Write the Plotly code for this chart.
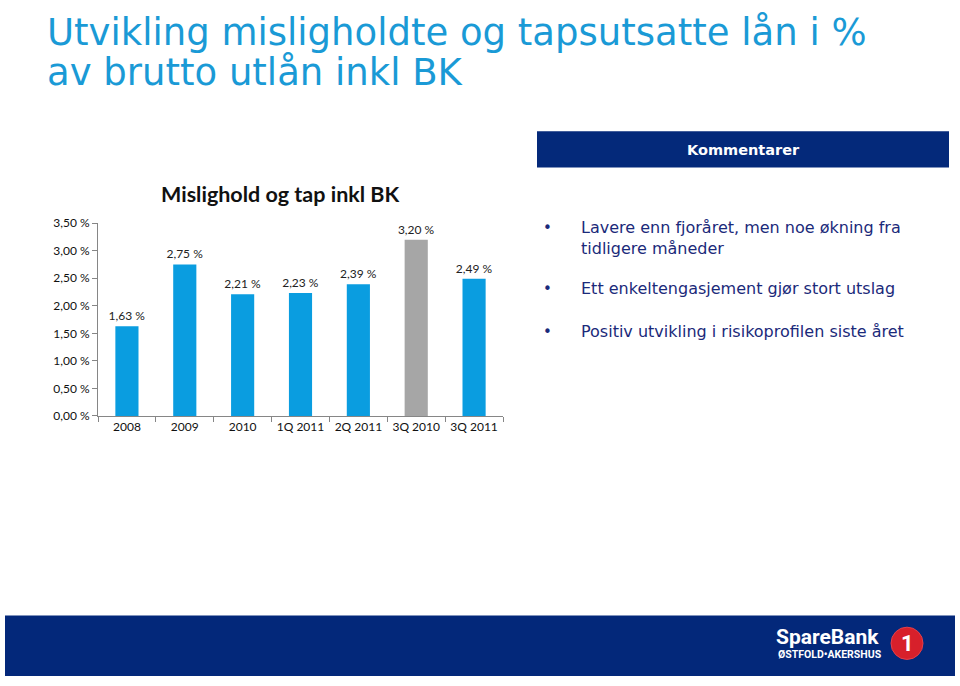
import plotly.graph_objects as go

W, H = 960, 686

categories = ["2008", "2009", "2010", "1Q 2011", "2Q 2011", "3Q 2010", "3Q 2011"]
values = [1.63, 2.75, 2.21, 2.23, 2.39, 3.20, 2.49]
bar_colors = ["#0A9DE0", "#0A9DE0", "#0A9DE0", "#0A9DE0", "#0A9DE0", "#A6A6A6", "#0A9DE0"]
y_ticks = [0.0, 0.5, 1.0, 1.5, 2.0, 2.5, 3.0, 3.5]

title_lines = ["Utvikling misligholdte og tapsutsatte lån i %", "av brutto utlån inkl BK"]
chart_title = "Mislighold og tap inkl BK"
comment_header = "Kommentarer"
bullets = [
    "Lavere enn fjoråret, men noe økning fra<br>tidligere måneder",
    "Ett enkeltengasjement gjør stort utslag",
    "Positiv utvikling i risikoprofilen siste året",
]

def fmt(v):
    return f"{v:.2f}".replace(".", ",") + " %"

def px(x):
    return x / W

def py(y):
    return 1 - y / H

fig = go.Figure()
fig.add_trace(go.Bar(
    x=categories, y=values,
    marker=dict(color=bar_colors, line=dict(width=0)),
    width=0.4,
    text=[fmt(v) for v in values],
    textposition="outside",
    constraintext="none",
    textfont=dict(family="Lato, Carlito, sans-serif", size=12, color="#222222"),
    cliponaxis=False,
    hoverinfo="skip",
))

fig.update_layout(
    width=W, height=H,
    margin=dict(l=0, r=0, t=0, b=0),
    paper_bgcolor="white", plot_bgcolor="white",
    showlegend=False,
    xaxis=dict(
        domain=[px(98), px(503)],
        showline=True, linecolor="#868686", linewidth=1,
        ticks="outside", tickson="boundaries", ticklen=5, tickcolor="#868686",
        tickfont=dict(family="Lato, Carlito, sans-serif", size=12, color="#111111"),
        showgrid=False, fixedrange=True,
    ),
    yaxis=dict(
        domain=[py(417), py(220)],
        range=[0, 3.5],
        tickvals=y_ticks, ticktext=[fmt(v) for v in y_ticks],
        showline=True, linecolor="#868686", linewidth=1,
        ticks="outside", ticklen=5, tickcolor="#868686",
        tickfont=dict(family="Lato, Carlito, sans-serif", size=12, color="#111111"),
        showgrid=False, zeroline=False, fixedrange=True,
    ),
    bargap=0.6,
)

ann = []
for line, y in zip(title_lines, [25, 66]):
    ann.append(dict(x=px(45), y=py(y), xref="paper", yref="paper", xanchor="left", yanchor="middle",
                    text=line, showarrow=False,
                    font=dict(family="DejaVu Sans, Verdana, sans-serif", size=37, color="#1A9AD6")))
ann.append(dict(x=px(280), y=py(190), xref="paper", yref="paper", xanchor="center", yanchor="middle",
                text="<b>" + chart_title + "</b>", showarrow=False,
                font=dict(family="Lato, Carlito, sans-serif", size=21.5, color="#111111")))
ann.append(dict(x=px(743), y=py(145), xref="paper", yref="paper", xanchor="center", yanchor="middle",
                text="<b>" + comment_header + "</b>", showarrow=False,
                font=dict(family="DejaVu Sans, Verdana, sans-serif", size=14.5, color="white")))
bullet_y = [235, 287, 331]
for b, y in zip(bullets, bullet_y):
    first_y = y if "<br>" not in b else 225
    ann.append(dict(x=px(547), y=py(first_y), xref="paper", yref="paper", xanchor="center", yanchor="middle",
                    text="•", showarrow=False,
                    font=dict(family="DejaVu Sans, Verdana, sans-serif", size=15, color="#1B2A7A")))
    ann.append(dict(x=px(579), y=py(y), xref="paper", yref="paper", xanchor="left", yanchor="middle",
                    text=b, showarrow=False, align="left",
                    font=dict(family="DejaVu Sans, Verdana, sans-serif", size=16, color="#1B2A7A")))
# Logo
ann.append(dict(x=px(881), y=py(643), xref="paper", yref="paper", xanchor="right", yanchor="middle",
                text="<b>SpareBank</b>", showarrow=False,
                font=dict(family="Roboto, Liberation Sans, sans-serif", size=21, color="white")))
ann.append(dict(x=px(884), y=py(661), xref="paper", yref="paper", xanchor="right", yanchor="middle",
                text="<b>ØSTFOLD•AKERSHUS</b>", showarrow=False,
                font=dict(family="Roboto, Liberation Sans, sans-serif", size=10.5, color="white")))
ann.append(dict(x=px(907), y=py(650), xref="paper", yref="paper", xanchor="center", yanchor="middle",
                text="<b>1</b>", showarrow=False,
                font=dict(family="Roboto, Liberation Sans, sans-serif", size=22, color="white")))
fig.update_layout(annotations=ann)

shapes = [
    dict(type="rect", xref="paper", yref="paper", x0=px(537), x1=px(949), y0=py(163), y1=py(126),
         fillcolor="#04297A", line=dict(width=0), layer="below"),
    dict(type="rect", xref="paper", yref="paper", x0=px(5), x1=px(955), y0=py(683), y1=py(621),
         fillcolor="#03287A", line=dict(width=0), layer="below"),
    dict(type="circle", xref="paper", yref="paper", x0=px(891), x1=px(923), y0=py(666), y1=py(633),
         fillcolor="#D7202B", line=dict(color="#E5404A", width=1), layer="above"),
]
fig.update_layout(shapes=shapes)

# Pin the figure to the top-left corner of the page (no body margin / scrolling).
post = ("document.body.style.margin='0';"
        "var d=document.getElementById('{plot_id}');"
        "d.style.position='fixed';d.style.top='0px';d.style.left='0px';")
fig.write_html("out.html", post_script=post, config={"displayModeBar": False})
